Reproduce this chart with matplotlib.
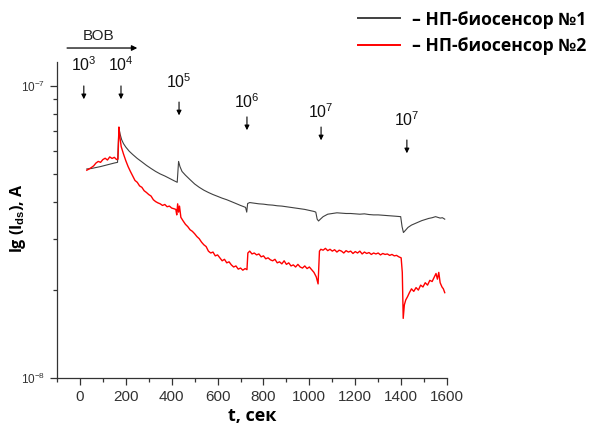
import matplotlib
matplotlib.use("Agg")
import matplotlib.pyplot as plt
from matplotlib.ticker import LogLocator, MultipleLocator, FixedLocator, FixedFormatter, NullFormatter

plt.rcParams['font.family'] = ['Liberation Sans', 'DejaVu Sans']
plt.rcParams['mathtext.fontset'] = 'custom'
plt.rcParams['mathtext.rm'] = 'Liberation Sans'
plt.rcParams['mathtext.it'] = 'Liberation Sans:italic'
plt.rcParams['mathtext.bf'] = 'Liberation Sans:bold'

# ---- data (current in units of 1e-8 A) ----
t_1 = [30, 50, 70, 90, 110, 130, 150, 164, 170, 175, 182, 190, 200, 215, 230, 250, 270, 290,
       310, 330, 350, 370, 390, 410, 420, 424, 430, 436, 445, 460, 480, 500, 520, 540, 560,
       580, 600, 620, 640, 660, 680, 700, 715, 722, 727, 731, 740, 760, 780, 800, 820, 840,
       860, 880, 900, 920, 940, 960, 980, 1000, 1020, 1028, 1034, 1040, 1048, 1060, 1080,
       1100, 1120, 1140, 1160, 1180, 1200, 1220, 1240, 1260, 1280, 1300, 1320, 1340, 1360,
       1380, 1398, 1404, 1410, 1418, 1430, 1445, 1460, 1475, 1490, 1505, 1520, 1535, 1550,
       1560, 1570, 1580, 1590]
ids_1 = [5.20, 5.22, 5.26, 5.30, 5.35, 5.40, 5.45, 5.48, 7.20, 6.85, 6.55, 6.35, 6.18, 5.98,
         5.83, 5.65, 5.50, 5.35, 5.22, 5.10, 5.00, 4.92, 4.83, 4.74, 4.70, 4.68, 5.52, 5.30,
         5.10, 4.95, 4.78, 4.62, 4.50, 4.40, 4.32, 4.25, 4.19, 4.13, 4.08, 4.02, 3.96, 3.90,
         3.86, 3.84, 3.70, 3.96, 3.99, 3.97, 3.95, 3.94, 3.92, 3.91, 3.89, 3.88, 3.86, 3.84,
         3.82, 3.80, 3.78, 3.75, 3.72, 3.70, 3.50, 3.45, 3.50, 3.57, 3.64, 3.66, 3.68, 3.67,
         3.66, 3.66, 3.65, 3.64, 3.65, 3.63, 3.62, 3.62, 3.61, 3.60, 3.59, 3.58, 3.57, 3.30,
         3.15, 3.20, 3.28, 3.34, 3.38, 3.42, 3.46, 3.49, 3.52, 3.54, 3.57, 3.55, 3.53, 3.54, 3.50]

t_2 = [30, 40, 50, 60, 70, 80, 90, 100, 110, 120, 130, 140, 150, 160, 166, 170, 174, 180, 190,
       200, 210, 220, 230, 240, 250, 260, 270, 280, 290, 300, 310, 320, 330, 340, 350, 360,
       370, 380, 390, 400, 410, 418, 422, 426, 430, 434, 440, 450, 460, 470, 480, 490, 500,
       510, 520, 530, 540, 550, 560, 570, 580, 590, 600, 610, 620, 630, 640, 650, 660, 670,
       680, 690, 700, 710, 720, 728, 732, 740, 750, 760, 770, 780, 790, 800, 810, 820, 830,
       840, 850, 860, 870, 880, 890, 900, 910, 920, 930, 940, 950, 960, 970, 980, 990, 1000,
       1010, 1020, 1030, 1038, 1044, 1050, 1060, 1070, 1080, 1090, 1100, 1110, 1120, 1130,
       1140, 1150, 1160, 1170, 1180, 1190, 1200, 1210, 1220, 1230, 1240, 1250, 1260, 1270,
       1280, 1290, 1300, 1310, 1320, 1330, 1340, 1350, 1360, 1370, 1380, 1390, 1400, 1405,
       1409, 1414, 1420, 1428, 1436, 1445, 1455, 1465, 1475, 1485, 1495, 1505, 1515, 1525,
       1535, 1545, 1552, 1558, 1564, 1570, 1578, 1584, 1590]
ids_2 = [5.15, 5.20, 5.26, 5.33, 5.45, 5.52, 5.48, 5.60, 5.66, 5.58, 5.72, 5.65, 5.70, 5.60,
         5.62, 7.24, 6.70, 6.20, 5.85, 5.55, 5.30, 5.10, 4.92, 4.75, 4.68, 4.55, 4.50, 4.38,
         4.32, 4.25, 4.20, 4.08, 4.02, 3.98, 3.95, 3.90, 3.93, 3.86, 3.88, 3.82, 3.80, 3.78,
         3.62, 3.95, 3.70, 3.88, 3.55, 3.45, 3.36, 3.30, 3.22, 3.18, 3.12, 3.05, 3.00, 2.92,
         2.86, 2.82, 2.72, 2.68, 2.70, 2.62, 2.64, 2.58, 2.52, 2.55, 2.48, 2.50, 2.44, 2.40,
         2.42, 2.36, 2.38, 2.34, 2.37, 2.35, 2.68, 2.72, 2.66, 2.68, 2.64, 2.66, 2.60, 2.62,
         2.56, 2.58, 2.54, 2.52, 2.55, 2.48, 2.50, 2.46, 2.52, 2.45, 2.48, 2.42, 2.44, 2.40,
         2.45, 2.40, 2.38, 2.42, 2.37, 2.40, 2.35, 2.30, 2.22, 2.10, 2.72, 2.76, 2.74, 2.78,
         2.73, 2.76, 2.72, 2.75, 2.70, 2.74, 2.72, 2.68, 2.73, 2.70, 2.72, 2.67, 2.71, 2.68,
         2.72, 2.66, 2.70, 2.67, 2.69, 2.65, 2.68, 2.66, 2.68, 2.64, 2.67, 2.65, 2.66, 2.63,
         2.65, 2.62, 2.63, 2.60, 2.58, 2.30, 1.60, 1.78, 1.85, 1.90, 1.96, 2.02, 1.98, 2.04,
         2.00, 2.08, 2.05, 2.12, 2.08, 2.16, 2.14, 2.22, 2.28, 2.18, 2.30, 2.12, 2.05, 2.02, 1.96]

series_labels = ["\u2013 НП-биосенсор №1", "\u2013 НП-биосенсор №2"]
event_times = [17, 179, 432, 728, 1051, 1425]
event_labels = ["10$^{3}$", "10$^{4}$", "10$^{5}$", "10$^{6}$", "10$^{7}$", "10$^{7}$"]
event_text_y = [0.991, 0.991, 0.937, 0.873, 0.842, 0.816]   # axes fraction (label centre)
event_arrow_y = [0.924, 0.924, 0.873, 0.826, 0.794, 0.753]  # axes fraction (arrow top)
unit = 1e-8

fig = plt.figure(figsize=(5.91, 4.30), dpi=100)
ax = fig.add_axes([0.0964, 0.121, 0.66, 0.735])

ax.plot(t_1, [v * unit for v in ids_1], color='#404040', lw=0.8, label=series_labels[0])
ax.plot(t_2, [v * unit for v in ids_2], color='#ff0000', lw=1.0, label=series_labels[1])

ax.set_yscale('log')
ax.set_xlim(-100, 1600)
ax.set_ylim(1e-8, 1.21e-7)

for s in ['top', 'right']:
    ax.spines[s].set_visible(False)
for s in ['left', 'bottom']:
    ax.spines[s].set_color('#333333')
    ax.spines[s].set_linewidth(0.9)

ax.xaxis.set_major_locator(MultipleLocator(200))
ax.xaxis.set_minor_locator(MultipleLocator(100))
ax.yaxis.set_major_locator(FixedLocator([1e-8, 1e-7]))
ax.yaxis.set_major_formatter(FixedFormatter(["10$^{-8}$", "10$^{-7}$"]))
ax.yaxis.set_minor_locator(LogLocator(base=10, subs=range(2, 10)))
ax.yaxis.set_minor_formatter(NullFormatter())
ax.tick_params(axis='x', which='major', labelsize=11, length=5, width=0.9, colors='#333333', labelcolor='#333333')
ax.tick_params(axis='x', which='minor', length=3, width=0.9, colors='#333333')
ax.tick_params(axis='y', which='major', labelsize=8.5, length=5, width=0.9, colors='#333333', labelcolor='#333333')
ax.tick_params(axis='y', which='minor', length=3, width=0.9, colors='#333333')

ax.set_xlabel("t, сек", fontsize=13, fontweight='bold', family=['Open Sans', 'DejaVu Sans'], labelpad=2)
ax.set_ylabel("lg (I$_{\\mathbf{ds}}$), A", fontsize=11.5, fontweight='bold', family=['Open Sans', 'DejaVu Sans'])
ax.yaxis.set_label_coords(-0.074, 0.506)

trans = ax.get_xaxis_transform()
for tt, lab, ty, ay in zip(event_times, event_labels, event_text_y, event_arrow_y):
    ax.text(tt, ty, lab, transform=trans, ha='center', va='center', fontsize=11.5, color='#111111')
    ax.annotate("", xy=(tt, ay - 0.042), xytext=(tt, ay), xycoords=trans, textcoords=trans,
                arrowprops=dict(arrowstyle='-|>', color='black', lw=0.8, mutation_scale=7,
                                shrinkA=0, shrinkB=0))

ax.annotate("", xy=(250, 1.044), xytext=(-56, 1.044), xycoords=trans, textcoords=trans,
            arrowprops=dict(arrowstyle='-|>', color='black', lw=0.9, mutation_scale=8,
                            shrinkA=0, shrinkB=0),
            annotation_clip=False)
ax.text(80, 1.060, "ВОВ", transform=trans, ha='center', va='bottom', fontsize=11, color='#222222')

leg = ax.legend(loc='upper right', bbox_to_anchor=(1.019, 1.012), bbox_transform=fig.transFigure,
                frameon=False, handlelength=2.4, handletextpad=0.7, labelspacing=0.5,
                prop=dict(family=['Open Sans', 'DejaVu Sans'], weight='bold', size=12.6))
for line in leg.get_lines():
    line.set_linewidth(1.4)

fig.savefig("out.png", dpi=100)
